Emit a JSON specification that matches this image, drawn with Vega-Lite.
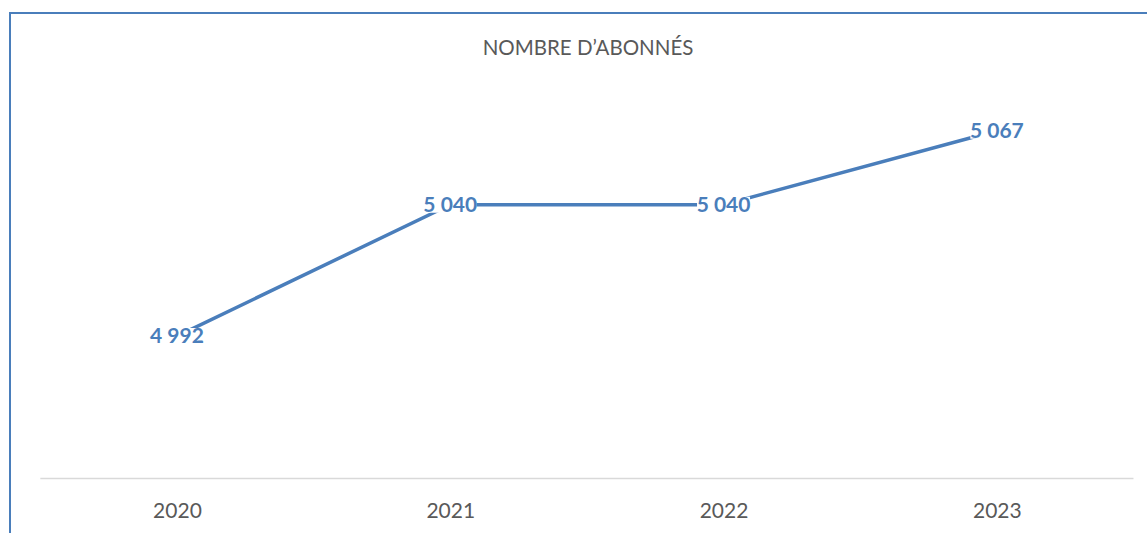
{
  "$schema": "https://vega.github.io/schema/vega-lite/v6.json",
  "width": 1156,
  "height": 575,
  "padding": {"left": 10, "top": 13, "right": 0, "bottom": 0},
  "autosize": {"type": "pad"},
  "background": "white",
  "title": {
    "text": "NOMBRE D’ABONNÉS",
    "anchor": "middle",
    "frame": "group",
    "orient": "top",
    "offset": -62,
    "baseline": "alphabetic",
    "font": "Lato",
    "fontSize": 20.5,
    "fontWeight": "normal",
    "color": "#595959"
  },
  "config": {
    "view": {"stroke": "#4A7EBB", "strokeWidth": 2},
    "locale": {"number": {"decimal": ",", "thousands": " ", "grouping": [3], "currency": ["", " €"]}}
  },
  "data": {
    "values": [
      {"annee": 2020, "abonnes": 4992},
      {"annee": 2021, "abonnes": 5040},
      {"annee": 2022, "abonnes": 5040},
      {"annee": 2023, "abonnes": 5067}
    ]
  },
  "layer": [
    {
      "data": {"values": [{"debut": 2019.5, "fin": 2023.5, "base": 4940}]},
      "mark": {"type": "rule", "color": "#D9D9D9", "strokeWidth": 1.5},
      "encoding": {
        "x": {
          "field": "debut",
          "type": "quantitative",
          "scale": {"domain": [2019.389, 2023.619], "nice": false, "zero": false},
          "axis": {
            "title": null,
            "values": [2020, 2021, 2022, 2023],
            "format": "d",
            "offset": -110,
            "domain": false,
            "ticks": false,
            "tickSize": 0,
            "grid": false,
            "labelPadding": 22,
            "labelFont": "Lato",
            "labelFontSize": 21,
            "labelColor": "#595959",
            "labelFlush": false
          }
        },
        "x2": {"field": "fin"},
        "y": {"field": "base", "type": "quantitative", "scale": {"domain": [4900, 5110], "nice": false, "zero": false}, "axis": null}
      }
    },
    {
      "mark": {"type": "line", "color": "#4A7EBB", "strokeWidth": 3.5},
      "encoding": {
        "x": {"field": "annee", "type": "quantitative"},
        "y": {"field": "abonnes", "type": "quantitative"}
      }
    },
    {
      "mark": {"type": "point", "shape": "M-3.3125,-1H3.3125V1H-3.3125Z", "size": 256, "filled": true, "color": "white", "opacity": 1, "strokeWidth": 0},
      "encoding": {
        "x": {"field": "annee", "type": "quantitative"},
        "y": {"field": "abonnes", "type": "quantitative"}
      }
    },
    {
      "mark": {"type": "text", "font": "Lato", "fontSize": 21, "fontWeight": "bold", "color": "#4A7EBB", "align": "center", "baseline": "middle", "dy": 1},
      "encoding": {
        "x": {"field": "annee", "type": "quantitative"},
        "y": {"field": "abonnes", "type": "quantitative"},
        "text": {"field": "abonnes", "type": "quantitative", "format": ",d"}
      }
    }
  ]
}
